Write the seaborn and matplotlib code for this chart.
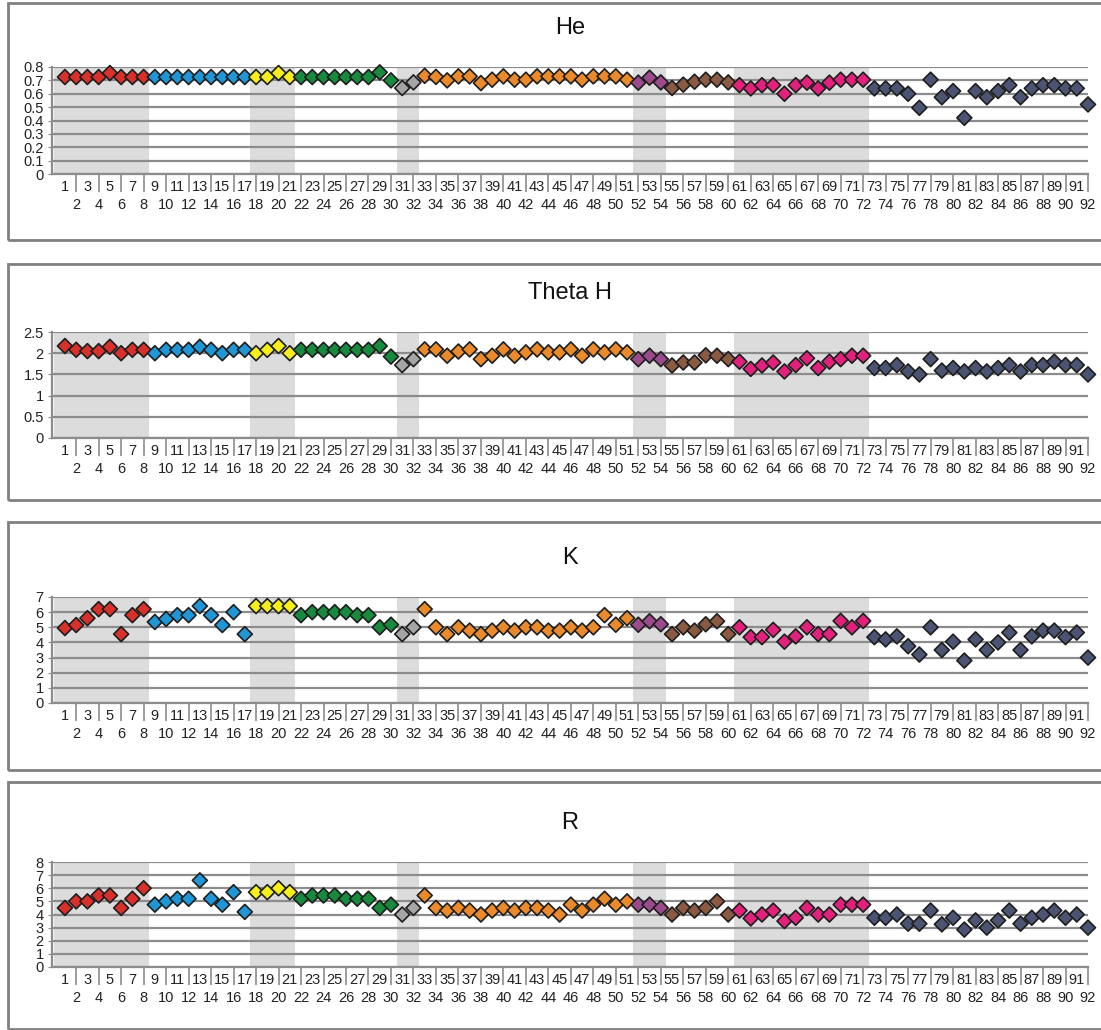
import numpy as np
import pandas as pd
import matplotlib
matplotlib.use("Agg")
import matplotlib.pyplot as plt
from matplotlib.patches import Rectangle
import seaborn as sns

# ---- data -------------------------------------------------------------
group_sizes = [8, 9, 4, 9, 2, 19, 3, 6, 12, 20]
group_colors = ["#d8302a", "#2196d6", "#f7ef1d", "#178a3e", "#a5a5a5",
                "#ea8a2b", "#9b4b8c", "#8b5a42", "#e2217c", "#4b5573"]
shaded_groups = [0, 2, 4, 6, 8]

he_values = [
    0.725, 0.725, 0.725, 0.725, 0.755, 0.725, 0.725, 0.725,
    0.725, 0.725, 0.725, 0.725, 0.725, 0.725, 0.725, 0.725, 0.725,
    0.725, 0.725, 0.755, 0.725,
    0.725, 0.725, 0.725, 0.725, 0.725, 0.725, 0.725, 0.76, 0.70,
    0.643, 0.685,
    0.734, 0.726, 0.70, 0.73, 0.73, 0.68, 0.705, 0.73, 0.705, 0.705,
    0.73, 0.73, 0.73, 0.73, 0.705, 0.73, 0.73, 0.73, 0.705,
    0.683, 0.72, 0.685,
    0.643, 0.668, 0.69, 0.705, 0.705, 0.685,
    0.664, 0.64, 0.664, 0.664, 0.60, 0.664, 0.683, 0.64, 0.683, 0.705, 0.705, 0.705,
    0.64, 0.64, 0.64, 0.60, 0.495, 0.705, 0.574, 0.62, 0.42, 0.62,
    0.574, 0.62, 0.664, 0.574, 0.64, 0.664, 0.664, 0.64, 0.64, 0.52,
]

theta_h_values = [
    2.17, 2.08, 2.05, 2.05, 2.15, 2.0, 2.08, 2.08,
    2.0, 2.08, 2.08, 2.08, 2.15, 2.08, 2.0, 2.08, 2.08,
    2.0, 2.08, 2.17, 2.0,
    2.08, 2.08, 2.08, 2.08, 2.08, 2.08, 2.08, 2.17, 1.92,
    1.72, 1.86,
    2.09, 2.09, 1.94, 2.04, 2.09, 1.86, 1.94, 2.09, 1.94, 2.02,
    2.09, 2.02, 2.02, 2.09, 1.94, 2.09, 2.02, 2.09, 2.02,
    1.86, 1.94, 1.86,
    1.71, 1.78, 1.78, 1.95, 1.94, 1.86,
    1.8, 1.63, 1.71, 1.78, 1.57, 1.72, 1.88, 1.65, 1.8, 1.86, 1.94, 1.94,
    1.65, 1.65, 1.72, 1.57, 1.5, 1.86, 1.59, 1.65, 1.57, 1.65,
    1.57, 1.65, 1.72, 1.57, 1.72, 1.72, 1.8, 1.72, 1.72, 1.5,
]

k_values = [
    4.95, 5.15, 5.6, 6.2, 6.2, 4.55, 5.8, 6.2,
    5.35, 5.55, 5.8, 5.8, 6.4, 5.8, 5.15, 6.0, 4.55,
    6.4, 6.4, 6.4, 6.4,
    5.8, 6.0, 6.0, 6.0, 6.0, 5.8, 5.8, 5.0, 5.17,
    4.55, 5.0,
    6.2, 5.0, 4.55, 5.0, 4.78, 4.55, 4.78, 5.0, 4.78, 5.0,
    5.0, 4.78, 4.78, 5.0, 4.78, 5.0, 5.8, 5.17, 5.6,
    5.17, 5.4, 5.2,
    4.55, 5.0, 4.78, 5.2, 5.4, 4.55,
    5.0, 4.35, 4.35, 4.83, 4.05, 4.4, 5.0, 4.55, 4.55, 5.42, 5.0, 5.42,
    4.35, 4.2, 4.4, 3.75, 3.2, 5.0, 3.5, 4.05, 2.8, 4.2,
    3.5, 4.0, 4.65, 3.5, 4.4, 4.78, 4.78, 4.35, 4.65, 3.0,
]

r_values = [
    4.5, 5.0, 5.0, 5.45, 5.45, 4.5, 5.2, 6.0,
    4.75, 5.0, 5.2, 5.2, 6.6, 5.2, 4.75, 5.7, 4.2,
    5.7, 5.7, 6.0, 5.7,
    5.2, 5.45, 5.45, 5.45, 5.2, 5.2, 5.2, 4.5, 4.75,
    4.0, 4.5,
    5.45, 4.5, 4.3, 4.5, 4.3, 4.0, 4.3, 4.5, 4.3, 4.5,
    4.5, 4.3, 4.0, 4.75, 4.3, 4.75, 5.2, 4.75, 5.0,
    4.75, 4.75, 4.5,
    4.0, 4.5, 4.3, 4.5, 5.0, 4.0,
    4.3, 3.7, 4.0, 4.3, 3.5, 3.75, 4.5, 4.0, 4.0, 4.75, 4.75, 4.75,
    3.75, 3.75, 4.0, 3.3, 3.3, 4.3, 3.25, 3.75, 2.85, 3.55,
    3.0, 3.55, 4.3, 3.3, 3.75, 4.0, 4.3, 3.75, 4.0, 3.0,
]

panel_titles = ["He", "Theta H", "K", "R"]
panel_values = [he_values, theta_h_values, k_values, r_values]
panel_ymax = [0.8, 2.5, 7, 8]
panel_ystep = [0.1, 0.5, 1, 1]

# ---- table ------------------------------------------------------------
samples = np.arange(1, sum(group_sizes) + 1)
groups = np.repeat(np.arange(len(group_sizes)), group_sizes)
df = pd.DataFrame({"sample": samples, "group": groups})
for title, vals in zip(panel_titles, panel_values):
    df[title] = vals

bounds = np.cumsum([0] + group_sizes)

# ---- figure -----------------------------------------------------------
W, H = 1101, 1030
fig = plt.figure(figsize=(W / 100, H / 100), dpi=100)
plt.rcParams["font.family"] = ["Liberation Sans", "DejaVu Sans"]

frame_px = [(3, 240), (264, 500), (522, 770), (782, 1029)]
axes_px = [(67, 174), (332, 438), (597, 703), (862, 967)]
ax_left, ax_right = 52, 1088
grid_col = "#8c8c8c"
x_lo = -0.15

for i, title in enumerate(panel_titles):
    ftop, fbot = frame_px[i]
    fig.add_artist(Rectangle((8 / W, 1 - fbot / H), (1104 - 8) / W, (fbot - ftop) / H,
                             transform=fig.transFigure, fill=False,
                             edgecolor="#808080", linewidth=2))
    top, bot = axes_px[i]
    ax = fig.add_axes([ax_left / W, 1 - bot / H, (ax_right - ax_left) / W, (bot - top) / H])

    # alternating shaded bands (the first one starts at the axis)
    for g in shaded_groups:
        start = bounds[g] + 0.5 if g > 0 else x_lo + 0.2
        ax.axvspan(start, bounds[g + 1] + 0.5, color="#dcdcdc", lw=0, zorder=0)

    sns.scatterplot(data=df, x="sample", y=title, hue="group",
                    palette=group_colors, marker="D", s=58,
                    edgecolor="#1e1e1e", linewidth=1.2, legend=False,
                    ax=ax, clip_on=False, zorder=3)

    ymax, step = panel_ymax[i], panel_ystep[i]
    yt = np.round(np.arange(0, ymax + step / 2, step), 3)
    ax.set_ylim(0, ymax)
    ax.set_yticks(yt, labels=[f"{v:g}" for v in yt])
    ax.yaxis.grid(True, color=grid_col, linewidth=1.6, zorder=1)
    ax.set_axisbelow(True)
    ax.tick_params(axis="y", length=3, color=grid_col, pad=3, labelsize=10.5,
                   labelcolor="#222222")

    ax.set_xlim(x_lo, samples[-1])
    even = samples[samples % 2 == 0]
    odd = samples[samples % 2 == 1]
    ax.set_xticks(even, labels=[str(v) for v in even])
    ax.set_xticks(odd, labels=[str(v) for v in odd], minor=True)
    ax.tick_params(axis="x", which="major", length=13, width=1.2, color=grid_col,
                   pad=4.0, labelsize=10.5, labelcolor="#222222")
    ax.tick_params(axis="x", which="minor", length=0, pad=4.2, labelsize=10.5,
                   labelcolor="#222222")

    for side in ["top", "right"]:
        ax.spines[side].set_visible(False)
    for side in ["left", "bottom"]:
        ax.spines[side].set_color(grid_col)
        ax.spines[side].set_linewidth(1.6)

    ax.set_xlabel("")
    ax.set_ylabel("")
    ax.set_title(title, fontsize=17, pad=24, color="#111111")

fig.savefig("out.png", dpi=100)
